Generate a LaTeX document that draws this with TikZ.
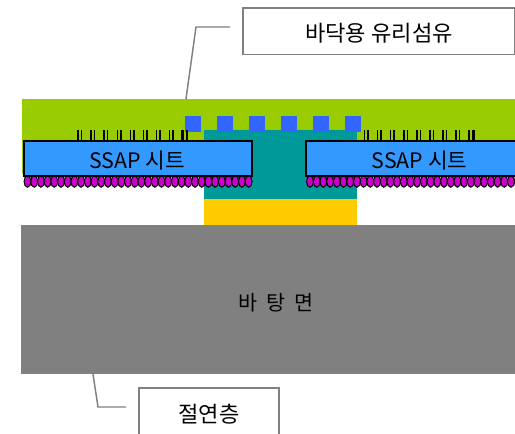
\documentclass[tikz,border=0pt]{standalone}
\usepackage{fontspec}
\setmainfont{Noto Sans CJK KR}
\definecolor{greenc}{RGB}{153,204,0}
\definecolor{tealc}{RGB}{0,153,153}
\definecolor{yellowc}{RGB}{255,204,0}
\definecolor{grayc}{RGB}{128,128,128}
\definecolor{squarec}{RGB}{51,102,255}
\definecolor{sheetc}{RGB}{51,153,255}
\definecolor{ballc}{RGB}{204,0,204}
\usetikzlibrary{shapes.geometric}
\tikzset{
  x=0.75pt,y=-0.75pt,
  fillbox/.style={inner sep=0pt,outer sep=0pt,anchor=north west},
  labelbox/.style={draw=grayc,line width=1.1pt,fill=white,inner sep=0pt,outer sep=0pt,anchor=north west},
  labeltext/.style={inner sep=0pt,font=\fontsize{16.6}{18}\selectfont},
  sheettext/.style={inner sep=0pt,font=\fontsize{16}{18}\selectfont},
  leader/.style={draw=grayc,line width=1.1pt},
  sheet/.style={draw=black,line width=1.5pt,fill=sheetc,inner sep=0pt,outer sep=0pt,anchor=north west},
  ball/.style={draw=black,line width=0.75pt,fill=ballc,ellipse,inner sep=0pt,minimum width=5.2pt,minimum height=8.6pt},
  tick/.style={draw=black,line width=1.1pt},
  sq/.style={fill=squarec,draw=none,inner sep=0pt,anchor=north west,minimum width=12pt,minimum height=12pt}
}
\begin{document}
\begin{tikzpicture}
\useasboundingbox (0,0) rectangle (515,433);
\clip (0,0) rectangle (515,433);
\fill[white] (0,0) rectangle (515,433);
\fill[greenc] (22,99) rectangle (515,174);
\fill[tealc] (204,130) rectangle (357,199);
\fill[yellowc] (204,199) rectangle (357,225);
\foreach \i in {0,...,5} \node[sq] at ({185+32*\i},116) {};
% ticks
\foreach \i in {0,...,8} {
  \draw[tick] ({78+13.1*\i},130) -- ({78+13.1*\i},141);
  \draw[tick] ({81.5+13.1*\i},130) -- ({81.5+13.1*\i},141);
}
\draw[tick] (182,130) -- (182,141); \draw[tick] (187,130) -- (187,141);
\foreach \i in {0,...,8} {
  \draw[tick] ({364.5+13.1*\i},130) -- ({364.5+13.1*\i},141);
  \draw[tick] ({368+13.1*\i},130) -- ({368+13.1*\i},141);
}
\draw[tick] (469,130) -- (469,141); \draw[tick] (474.5,130) -- (474.5,141);
% balls
\foreach \i in {0,...,33} \node[ball] at ({27.5+6.7*\i},181.5) {};
\foreach \i in {0,...,31} \node[ball] at ({310+6.7*\i},181.5) {};
% sheets
\node[sheet,minimum width=171pt,minimum height=26.2pt] (s1) at (23.5,141) {};
\node[sheettext] (s1t) at (137,161) {SSAP 시트};
\fill[sheetc] (307,141) rectangle (515,176);
\draw[black,line width=1.5pt] (515,141) -- (306,141) -- (306,176) -- (515,176);
\node[sheettext] (s2) at (419.5,161) {SSAP 시트};
% base
\node[fillbox,fill=grayc,minimum width=370.5pt,minimum height=111.75pt] (base) at (21,225) {};
\node[inner sep=0pt,font=\fontsize{15.5}{18}\selectfont] (t) at (276,303) {바\hspace{0.45em}탕\hspace{0.45em}면};
% labels
\node[labelbox,minimum width=203.5pt,minimum height=35pt] (l1) at (243,8) {};
\node[labeltext] (l1t) at (379,33) {바닥용 유리섬유};
\node[labelbox,minimum width=105pt,minimum height=45pt] (l2) at (139,388) {};
\node[labeltext] (l2t) at (209,414) {절연층};
\coordinate (a1) at (230,27);
\coordinate (a2) at (196,27);
\coordinate (a3) at (186,99);
\draw[leader] (a1) -- (a2) -- (a3);
\coordinate (b1) at (93,374);
\coordinate (b2) at (98,407);
\coordinate (b3) at (126,407);
\draw[leader] (b1) -- (b2) -- (b3);
\end{tikzpicture}
\end{document}
